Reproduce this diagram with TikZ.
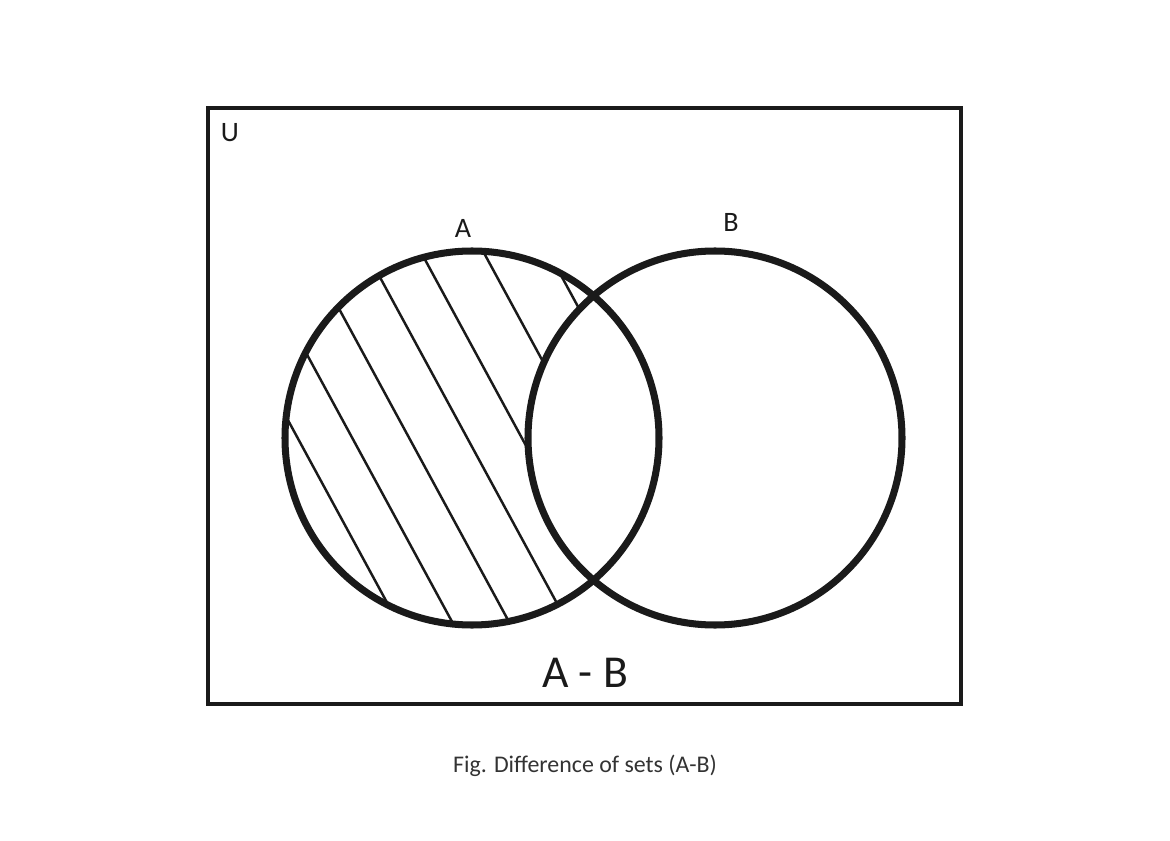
\documentclass[tikz,border=0pt]{standalone}
\usepackage{fontspec}
\setmainfont{Carlito}
\usepackage{tikz}
\definecolor{vennline}{HTML}{1A1A1A}
\definecolor{captiongray}{HTML}{333333}
\newcommand{\hatchoffsets}{53,101,151,202,250,305,362}

\begin{document}
\begin{tikzpicture}[x=0.02cm,y=-0.02cm,
  setring/.style={draw=vennline,line width=4pt},
  hatchline/.style={draw=vennline,line width=1.4pt},
  lbl/.style={inner sep=0pt,text=vennline,font=\fontsize{16}{18}\selectfont}]
  \useasboundingbox (0,0) rectangle (1170,841);
  % universe
  \draw[draw=vennline,line width=1.8pt] (208,108) rectangle (961,704);
  \coordinate (ca) at (472,438);
  \coordinate (cb) at (715,438);
  % hatching of A minus B
  \begin{scope}
    \clip (ca) circle[radius=187];
    \foreach \o in \hatchoffsets
      \draw[hatchline] (\o*0.8787+119,-\o*0.4776+220) -- ++(310,571);
    \fill[white] (cb) circle[radius=187];
  \end{scope}
  \draw[setring] (ca) circle[radius=187];
  \draw[setring] (cb) circle[radius=187];
  % labels
  \node[lbl] (u) at (230,133) {U};
  \node[lbl] (la) at (463,228) {A};
  \node[lbl] (lb) at (731,222) {B};
  \node[lbl,font=\fontsize{26}{30}\selectfont] (diff) at (585,673) {A - B};
  \node[inner sep=0pt,text=captiongray,font=\fontsize{13.6}{16}\selectfont] (cap) at (585,766) {Fig. Difference of sets (A-B)};
\end{tikzpicture}
\end{document}
